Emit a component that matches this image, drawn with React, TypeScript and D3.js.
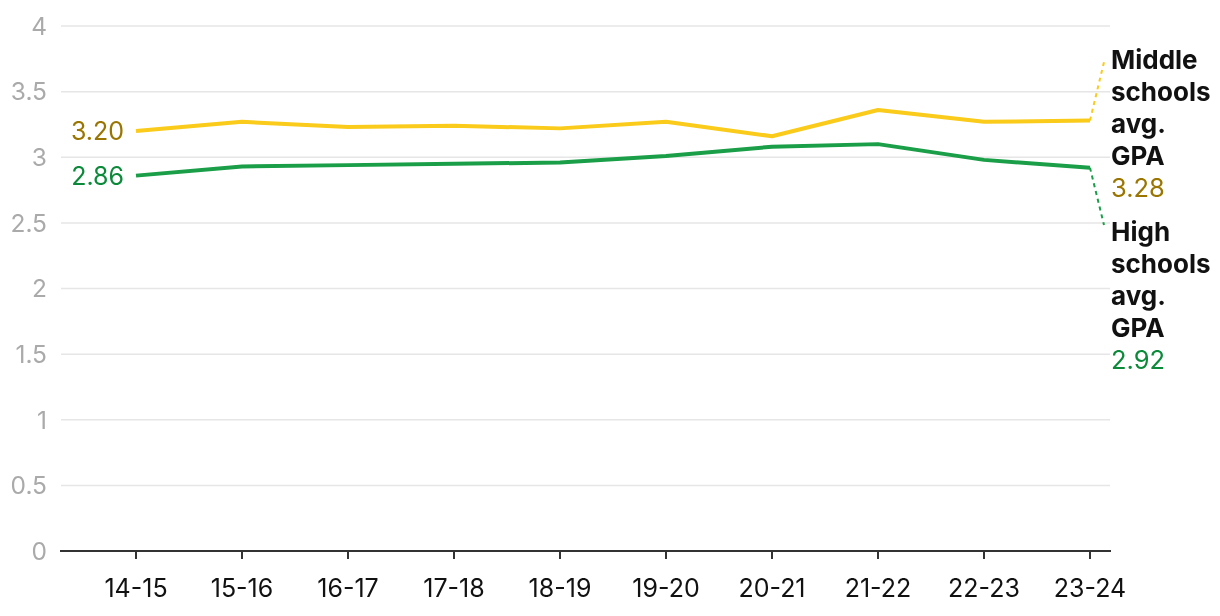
import React from "react";
import * as d3 from "d3";

const years = ["14-15", "15-16", "16-17", "17-18", "18-19", "19-20", "20-21", "21-22", "22-23", "23-24"];
const middleGPA = [3.2, 3.27, 3.23, 3.24, 3.22, 3.27, 3.16, 3.36, 3.27, 3.28];
const highGPA = [2.86, 2.93, 2.94, 2.95, 2.96, 3.01, 3.08, 3.1, 2.98, 2.92];
const yTicks = [0, 0.5, 1, 1.5, 2, 2.5, 3, 3.5, 4];
const middleLabel = ["Middle", "schools", "avg.", "GPA"];
const highLabel = ["High", "schools", "avg.", "GPA"];

const W = 1220;
const H = 616;
const FONT = "Inter, 'Noto Sans', sans-serif";
const YELLOW = "#FACB1A";
const GREEN = "#1A9E48";
const YELLOW_TXT = "#9A7600";
const GREEN_TXT = "#0B8A3A";

export default function App() {
  const x = d3.scalePoint<string>().domain(years).range([136, 1090]);
  const y = d3.scaleLinear().domain([0, 4]).range([551, 26]);
  const line = d3
    .line<number>()
    .x((_, i) => x(years[i]) as number)
    .y((d) => y(d));

  const lastX = x(years[years.length - 1]) as number;
  const firstX = x(years[0]) as number;
  const mLast = middleGPA[middleGPA.length - 1];
  const hLast = highGPA[highGPA.length - 1];

  return (
    <div style={{ position: "fixed", left: 0, top: 0 }}>
      <svg width={W} height={H} style={{ display: "block" }} fontFamily={FONT}>
        {yTicks.map((t) => (
          <g key={t}>
            {t !== 0 && (
              <line x1={61} x2={1110} y1={y(t)} y2={y(t)} stroke="#e6e6e6" strokeWidth={1.5} />
            )}
            <text x={47} y={y(t)} dy="0.36em" textAnchor="end" fontSize={24.5} fill="#aaaaaa">
              {String(t)}
            </text>
          </g>
        ))}
        <line x1={60} x2={1111} y1={551} y2={551} stroke="#333" strokeWidth={2} />
        {years.map((yr) => (
          <g key={yr}>
            <line x1={x(yr)} x2={x(yr)} y1={551} y2={559} stroke="#333" strokeWidth={2} />
            <text x={x(yr)} y={597} textAnchor="middle" fontSize={25} fill="#111">
              {yr}
            </text>
          </g>
        ))}
        <path d={line(middleGPA) || ""} fill="none" stroke={YELLOW} strokeWidth={4} strokeLinejoin="round" />
        <path d={line(highGPA) || ""} fill="none" stroke={GREEN} strokeWidth={4} strokeLinejoin="round" />
        <text x={firstX - 12} y={y(middleGPA[0])} dy="0.36em" textAnchor="end" fontSize={25} fill={YELLOW_TXT}>
          {middleGPA[0].toFixed(2)}
        </text>
        <text x={firstX - 12} y={y(highGPA[0])} dy="0.36em" textAnchor="end" fontSize={25} fill={GREEN_TXT}>
          {highGPA[0].toFixed(2)}
        </text>
        <path
          d={`M${lastX},${y(mLast)}L${lastX + 14},62`}
          fill="none"
          stroke={YELLOW}
          strokeWidth={2}
          strokeDasharray="4,4"
        />
        <path
          d={`M${lastX},${y(hLast)}L${lastX + 14},225`}
          fill="none"
          stroke={GREEN}
          strokeWidth={2}
          strokeDasharray="4,4"
        />
        <text x={1111} fontSize={26} fontWeight={700} fill="#111">
          {middleLabel.map((l, i) => (
            <tspan key={l} x={1111} y={69 + i * 32}>
              {l}
            </tspan>
          ))}
        </text>
        <text x={1111} y={197} fontSize={25.5} fill={YELLOW_TXT}>
          {mLast.toFixed(2)}
        </text>
        <text x={1111} fontSize={26} fontWeight={700} fill="#111">
          {highLabel.map((l, i) => (
            <tspan key={l} x={1111} y={241 + i * 32}>
              {l}
            </tspan>
          ))}
        </text>
        <text x={1111} y={369} fontSize={25.5} fill={GREEN_TXT}>
          {hLast.toFixed(2)}
        </text>
      </svg>
    </div>
  );
}
